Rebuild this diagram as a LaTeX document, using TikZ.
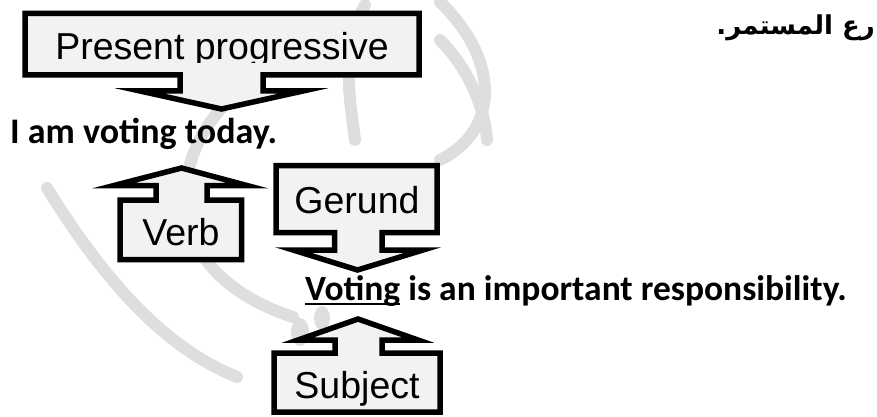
\documentclass[tikz,border=0pt]{standalone}
\usepackage{fontspec}
\setmainfont{Carlito}
\newfontfamily\labelfont{Liberation Sans}
\newfontfamily\arabicfont[Script=Arabic]{DejaVu Sans}
\TeXXeTstate=1
\newcommand\undr[1]{\setbox0\hbox{#1}\rlap{\rule[-5pt]{\wd0}{2.5pt}}\box0\relax}
\tikzset{
  callout/.style={draw=black,line width=5.5pt,fill=black!5},
  boxtext/.style={inner sep=0pt,font=\labelfont\fontsize{37.5}{40}\selectfont},
  sentence/.style={inner sep=0pt,font=\bfseries\fontsize{36}{40}\selectfont},
  wmark/.style={draw=black!13,line width=12pt,line cap=round},
}

\begin{document}
\begin{tikzpicture}[x=1pt,y=-1pt]
\useasboundingbox (0,0) rectangle (877,417);

\draw[wmark] (47,188) .. controls (110,290) and (170,350) .. (237,377);
\draw[wmark] (235,95) .. controls (170,150) and (150,270) .. (293,317);
\draw[wmark] (440,2) .. controls (500,60) and (500,130) .. (440,160);
\draw[wmark] (365,5) .. controls (340,50) and (350,100) .. (355,140);
\draw[wmark] (440,40) .. controls (470,70) and (485,110) .. (487,140);
\fill[black!13] (300,332) ellipse (9 and 14);
\fill[black!13] (322,318) ellipse (8 and 12);

\draw[callout] (25,13.5) -- (419,13.5) -- (419,75) -- (263,75) -- (263,91) -- (303,91)
  -- (221.5,109) -- (140,91) -- (180,91) -- (180,75) -- (25,75) -- cycle;
\draw[callout] (120,259.5) -- (241.5,259.5) -- (241.5,200) -- (207,200) -- (207,185.5) -- (247,185.5)
  -- (181.5,168) -- (114,185.5) -- (156,185.5) -- (156,200) -- (120,200) -- cycle;
\draw[callout] (276,165.5) -- (437,165.5) -- (437,232.5) -- (382,232.5) -- (382,250) -- (423,250)
  -- (357.5,270) -- (293,250) -- (334.5,250) -- (334.5,232.5) -- (276,232.5) -- cycle;
\draw[callout] (274,412) -- (440,412) -- (440,353) -- (382,353) -- (382,340) -- (418,340)
  -- (358,319) -- (298,340) -- (335,340) -- (335,353) -- (274,353) -- cycle;

\begin{scope}
\clip (0,0) rectangle (877,63);
\node[boxtext,anchor=base] (present) at (222,60) {Present progressive};
\end{scope}
\node[boxtext,anchor=base] (verb) at (181,245) {Verb};
\node[boxtext,anchor=base] (gerund) at (357,213) {Gerund};
\node[boxtext,anchor=base] (subject) at (357,398) {Subject};

\node[sentence,anchor=base west] (today) at (10,143) {I am voting today.};
\node[sentence,anchor=base west,font=\bfseries\fontsize{35.5}{40}\selectfont] (voting) at (305,300)
  {\undr{Voting} is an important responsibility.};
\node[inner sep=0pt,anchor=base east,font=\arabicfont\bfseries\fontsize{26}{30}\selectfont] (arabic)
  at (875,35) {\beginR رع المستمر.\endR};
\end{tikzpicture}
\end{document}
